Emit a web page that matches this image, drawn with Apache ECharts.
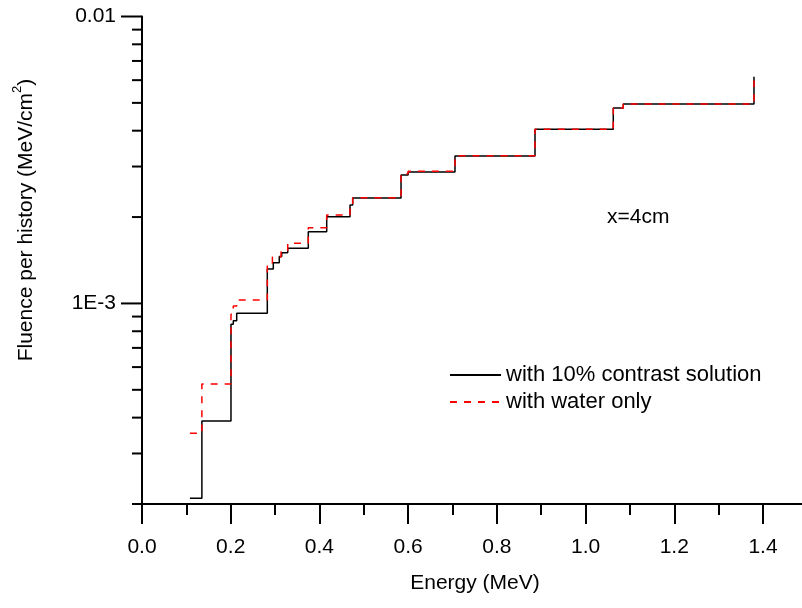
<!DOCTYPE html>
<html>
<head>
<meta charset="utf-8">
<script src="https://cdn.jsdelivr.net/npm/echarts@6/dist/echarts.min.js"></script>
<style>
  html, body { margin: 0; padding: 0; background: #fff; }
  #chart { width: 802px; height: 608px; }
</style>
</head>
<body>
<div id="chart"></div>
<script>
// Photon fluence spectrum at x = 4 cm (histogram bins: left edge energy, fluence)
const contrastEnergy = [0.108, 0.135, 0.2006, 0.2058, 0.2135, 0.2825, 0.296, 0.3095, 0.315, 0.3285,
  0.3749, 0.4164, 0.469, 0.475, 0.584, 0.600, 0.7056, 0.886, 1.0625, 1.085, 1.3797];
const contrastFluence = [2.095e-4, 3.896e-4, 8.46e-4, 8.71e-4, 9.24e-4, 1.319e-3, 1.387e-3, 1.456e-3, 1.503e-3, 1.558e-3,
  1.779e-3, 2.006e-3, 2.204e-3, 2.331e-3, 2.804e-3, 2.872e-3, 3.266e-3, 4.046e-3, 4.80e-3, 4.955e-3, 6.17e-3];

const waterEnergy = [0.108, 0.135, 0.2006, 0.2058, 0.2135, 0.2825, 0.294, 0.3135, 0.3285,
  0.3749, 0.4164, 0.469, 0.475, 0.584, 0.600, 0.7056, 0.886, 1.0625, 1.085, 1.3797];
const waterFluence = [3.53e-4, 5.24e-4, 9.17e-4, 9.80e-4, 1.028e-3, 1.384e-3, 1.452e-3, 1.515e-3, 1.621e-3,
  1.837e-3, 2.034e-3, 2.21e-3, 2.335e-3, 2.83e-3, 2.89e-3, 3.27e-3, 4.05e-3, 4.80e-3, 4.96e-3, 6.17e-3];

const seriesNames = ['with 10% contrast solution', 'with water only'];

// x-axis labelled range
const xLabelMax = 1.4;

// y-axis (log) tick marks
const yMajorTicks = [0.001, 0.01];
const yMinorTicks = [2e-4, 3e-4, 4e-4, 5e-4, 6e-4, 7e-4, 8e-4, 9e-4,
  2e-3, 3e-3, 4e-3, 5e-3, 6e-3, 7e-3, 8e-3, 9e-3];
const yTickLabels = { '0.01': '0.01', '0.001': '1E-3' };

const zip = (xs, ys) => xs.map((x, i) => [x, ys[i]]);
const tickData = yMajorTicks.map(v => [0, v, 1]).concat(yMinorTicks.map(v => [0, v, 0]));

const FONT = 'Liberation Sans, Arial, sans-serif';
const chart = echarts.init(document.getElementById('chart'), null, { renderer: 'canvas' });

chart.setOption({
  animation: false,
  backgroundColor: '#fff',
  // the x axis runs on past the right edge of the canvas
  grid: { left: 142, top: 16.5, width: 709.7, height: 487.5, containLabel: false, outerBoundsMode: 'none' },
  legend: {
    data: seriesNames,
    orient: 'vertical',
    left: 449, top: 364, padding: 0,
    itemWidth: 51, itemHeight: 14, itemGap: 5,
    itemStyle: { opacity: 0 },
    textStyle: { fontFamily: FONT, fontSize: 22, color: '#000', lineHeight: 22 },
    selectedMode: false
  },
  xAxis: {
    type: 'value', min: 0, max: 1.6, interval: 0.2,
    axisLine: { show: true, lineStyle: { color: '#000', width: 2 } },
    axisTick: { show: true, length: 20, lineStyle: { color: '#000', width: 2 } },
    minorTick: { show: true, splitNumber: 2, length: 11, lineStyle: { color: '#000', width: 2 } },
    splitLine: { show: false },
    axisLabel: { margin: 33, fontFamily: FONT, fontSize: 21, color: '#000',
      formatter: v => (v <= xLabelMax + 1e-9 ? v.toFixed(1) : '') }
  },
  yAxis: {
    type: 'log', logBase: 10, min: 0.0002, max: 0.01,
    axisLine: { show: true, lineStyle: { color: '#000', width: 2 } },
    axisTick: { show: false },
    splitLine: { show: false },
    axisLabel: { margin: 26, fontFamily: FONT, fontSize: 21, color: '#000',
      formatter: v => {
        for (const k in yTickLabels) {
          if (Math.abs(v - Number(k)) < Number(k) * 1e-6) return yTickLabels[k];
        }
        return '';
      } }
  },
  graphic: [
    {
      type: 'text', x: 24, y: 220, rotation: Math.PI / 2,
      style: {
        text: '{a|Fluence per history (MeV/cm}{s|2}{a|)}',
        align: 'center', verticalAlign: 'middle',
        rich: {
          a: { fontFamily: FONT, fontSize: 21, fill: '#000', lineHeight: 26, verticalAlign: 'bottom' },
          s: { fontFamily: FONT, fontSize: 13, fill: '#000', lineHeight: 26, verticalAlign: 'top' }
        }
      }
    },
    {
      type: 'text', x: 475, y: 583,
      style: { text: 'Energy (MeV)', fontFamily: FONT, fontSize: 21, fill: '#000',
        align: 'center', verticalAlign: 'middle' }
    },
    {
      type: 'text', x: 607, y: 217,
      style: { text: 'x=4cm', fontFamily: FONT, fontSize: 21, fill: '#000', verticalAlign: 'middle' }
    }
  ],
  series: [
    {
      name: seriesNames[0], type: 'line', step: 'end', symbol: 'none',
      data: zip(contrastEnergy, contrastFluence),
      lineStyle: { color: '#000', width: 1.5 }, itemStyle: { color: '#000' }, z: 3
    },
    {
      name: seriesNames[1], type: 'line', step: 'end', symbol: 'none',
      data: zip(waterEnergy, waterFluence),
      lineStyle: { color: '#ff0000', width: 1.5, type: [7, 7] }, itemStyle: { color: '#ff0000' }, z: 4
    },
    {
      name: 'yTicks', type: 'custom', silent: true, clip: false,
      data: tickData,
      renderItem: (params, api) => {
        const p = api.coord([0, api.value(1)]);
        const len = api.value(2) ? 21 : 10;
        return {
          type: 'line',
          shape: { x1: p[0] - len, y1: p[1], x2: p[0], y2: p[1] },
          style: { stroke: '#000', lineWidth: 2 }
        };
      },
      z: 5
    }
  ]
});
</script>
</body>
</html>
